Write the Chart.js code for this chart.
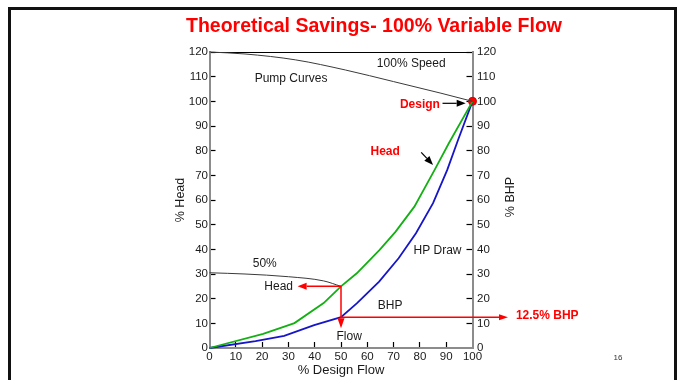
<!DOCTYPE html>
<html>
<head>
<meta charset="utf-8">
<script src="https://cdn.jsdelivr.net/npm/chart.js@4.4.1/dist/chart.umd.min.js"></script>
<style>
  html, body { margin: 0; padding: 0; background: #fff; }
  #wrap { position: relative; width: 683px; height: 380px; overflow: hidden; }
  #frame { position: absolute; left: 8px; top: 7px; width: 669px; height: 400px; box-sizing: border-box; border: 3px solid #111; }
  canvas { position: absolute; left: 0; top: 0; }
</style>
</head>
<body>
<div id="wrap">
  <div id="frame"></div>
  <canvas id="c" width="683" height="380"></canvas>
</div>
<script>
// Pump curves (% head vs % design flow)
const speed100Flow = [0, 13.5, 32.8, 51.7, 70, 88, 100];
const speed100Head = [120, 119.2, 116.8, 112.7, 108, 103.3, 100];
const speed50Flow  = [0, 13.5, 30, 43.4, 50];
const speed50Head  = [30.5, 30, 28.9, 27.2, 25];

// System head curve
const systemFlow = [0, 20.4, 32.3, 43.4, 50, 56, 64.6, 70.7, 77.9, 85.6, 91, 100];
const systemHead = [0, 5.7, 10.1, 18.2, 25, 30.3, 39.7, 47.1, 57.3, 72.2, 83, 100];

// Brake horsepower draw
const bhpFlow = [0, 17.5, 28.4, 39.8, 50, 56, 64.5, 71.9, 78.5, 85, 90.4, 94.5, 100];
const bhpPct  = [0, 2.8, 4.9, 9.3, 12.5, 18.1, 26.9, 36.4, 46.5, 58.7, 72.2, 84.3, 100];

// Operating points
const designFlow = 100, designHead = 100;
const reducedFlow = 50, reducedHead = 25, reducedBhp = 12.5;
const flowArrowEnd = 8;      // % head where the flow arrow stops
const headArrowEnd = 33.5;   // % flow where the head arrow stops
const bhpArrowEnd = 113.5;   // % flow where the BHP arrow stops

const FONT = "'Liberation Sans', Arial, Helvetica, sans-serif";
const RED = '#ff0000';
const INK = '#1a1a1a';

const pts = (xs, ys) => xs.map((x, i) => ({ x, y: ys[i] }));
const hideEnds = (lo, hi) => c => (c.tick && (c.tick.value === lo || c.tick.value === hi)) ? 'rgba(0,0,0,0)' : '#000';

// Text notes placed in data coordinates (flow %, head %)
const notes = [
  { text: 'Pump Curves', x: 31, y: 109.1 },
  { text: '100% Speed', x: 76.7, y: 115.3 },
  { text: 'Design', x: 80, y: 98.7, color: RED, bold: true },
  { text: 'Head', x: 66.8, y: 79.6, color: RED, bold: true },
  { text: 'HP Draw', x: 86.7, y: 39.3 },
  { text: 'BHP', x: 68.7, y: 17.2 },
  { text: '50%', x: 21, y: 34 },
  { text: 'Head', x: 26.3, y: 24.9 },
  { text: 'Flow', x: 53.1, y: 4.6 },
  { text: '12.5% BHP', x: 116.5, y: 13.3, color: RED, bold: true, align: 'left' }
];

function arrow(ctx, x1, y1, x2, y2, len, half) {
  const a = Math.atan2(y2 - y1, x2 - x1);
  const bx = x2 - len * Math.cos(a), by = y2 - len * Math.sin(a);
  ctx.beginPath();
  ctx.moveTo(x1, y1);
  ctx.lineTo(bx, by);
  ctx.stroke();
  ctx.beginPath();
  ctx.moveTo(x2, y2);
  ctx.lineTo(bx + half * Math.sin(a), by - half * Math.cos(a));
  ctx.lineTo(bx - half * Math.sin(a), by + half * Math.cos(a));
  ctx.closePath();
  ctx.fill();
}

const overlay = {
  id: 'overlay',
  afterDatasetsDraw(chart) {
    const { ctx, scales: { x, y } } = chart;
    const px = v => x.getPixelForValue(v), py = v => y.getPixelForValue(v);
    ctx.save();
    ctx.lineWidth = 1.5;
    ctx.strokeStyle = RED;
    ctx.fillStyle = RED;
    // reduced-flow operating point markers
    arrow(ctx, px(reducedFlow), py(reducedHead), px(reducedFlow), py(flowArrowEnd), 10, 3.5);
    arrow(ctx, px(reducedFlow), py(reducedHead), px(headArrowEnd), py(reducedHead), 9, 3.5);
    arrow(ctx, px(reducedFlow), py(reducedBhp), px(bhpArrowEnd), py(reducedBhp), 9, 3);
    // pointer arrows for the red notes
    ctx.strokeStyle = '#000';
    ctx.fillStyle = '#000';
    ctx.lineWidth = 1.2;
    arrow(ctx, px(88.6), py(99.2), px(97.4), py(99.2), 9, 3.5);
    arrow(ctx, px(80.5), py(79.3), px(85), py(74.2), 9, 3.5);
    ctx.restore();
  },
  afterDraw(chart) {
    const { ctx, scales: { x, y } } = chart;
    ctx.save();
    ctx.textBaseline = 'middle';
    notes.forEach(n => {
      ctx.font = (n.bold ? 'bold ' : '') + '12px ' + FONT;
      ctx.fillStyle = n.color || INK;
      ctx.textAlign = n.align || 'center';
      ctx.fillText(n.text, x.getPixelForValue(n.x), y.getPixelForValue(n.y));
    });
    // heading
    ctx.font = 'bold 19.5px ' + FONT;
    ctx.fillStyle = RED;
    ctx.textAlign = 'center';
    ctx.fillText('Theoretical Savings- 100% Variable Flow', 374, 27);
    // right axis title, reading upward
    ctx.save();
    ctx.translate(511, 197);
    ctx.rotate(-Math.PI / 2);
    ctx.font = '12.5px ' + FONT;
    ctx.fillStyle = INK;
    ctx.fillText('% BHP', 0, 0);
    ctx.restore();
    // page number
    ctx.font = '8px ' + FONT;
    ctx.fillStyle = '#333';
    ctx.fillText('16', 618, 358);
    ctx.restore();
  }
};

const tickFont = { family: FONT, size: 11.5 };

new Chart(document.getElementById('c'), {
  type: 'line',
  data: {
    datasets: [
      { label: '100% Speed', data: pts(speed100Flow, speed100Head), borderColor: '#3a3a3a', borderWidth: 1,
        pointRadius: 0, cubicInterpolationMode: 'monotone', clip: false },
      { label: '50% Speed', data: pts(speed50Flow, speed50Head), borderColor: '#3a3a3a', borderWidth: 1,
        pointRadius: 0, cubicInterpolationMode: 'monotone', clip: false },
      { label: 'Head', data: pts(systemFlow, systemHead), borderColor: '#13b013', borderWidth: 1.8,
        pointRadius: 0, tension: 0, clip: false },
      { label: 'BHP', data: pts(bhpFlow, bhpPct), borderColor: '#1616c8', borderWidth: 1.8,
        pointRadius: 0, tension: 0, clip: false },
      { label: 'Design', data: [{ x: designFlow, y: designHead }], showLine: false, pointRadius: 4,
        pointBackgroundColor: RED, pointBorderColor: '#d00000', pointBorderWidth: 1, clip: false }
    ]
  },
  options: {
    responsive: false,
    animation: false,
    devicePixelRatio: 1,
    layout: { padding: { left: 170, right: 170.5, top: 52, bottom: 0 } },
    plugins: { legend: { display: false }, tooltip: { enabled: false }, title: { display: false } },
    scales: {
      x: {
        type: 'linear', position: 'bottom', min: 0, max: 100,
        ticks: { stepSize: 10, autoSkip: false, maxRotation: 0, padding: 7.5, color: INK, font: tickFont },
        grid: { drawOnChartArea: false, tickLength: -6, tickWidth: 1.2, tickColor: hideEnds(0, 100) },
        border: { color: '#8c8c8c', width: 2 },
        title: { display: true, text: '% Design Flow', color: INK, font: { family: FONT, size: 13 }, padding: { top: 0, bottom: 1.5 } },
        afterFit(s) { s.height = 32; }
      },
      y: {
        type: 'linear', position: 'left', min: 0, max: 120,
        ticks: { stepSize: 10, padding: 7.5, color: INK, font: tickFont },
        grid: {
          drawOnChartArea: true, tickLength: -6, tickWidth: 1.2, lineWidth: 1,
          color: c => (c.tick && c.tick.value === 120) ? '#000' : 'rgba(0,0,0,0)',
          tickColor: hideEnds(0, -1)
        },
        border: { color: '#8c8c8c', width: 2 },
        title: { display: true, text: '% Head', color: INK, font: { family: FONT, size: 12.5 }, padding: { top: 3, bottom: 0 } },
        afterFit(s) { s.width = 39.5; }
      },
      y2: {
        type: 'linear', position: 'right', min: 0, max: 120,
        ticks: { stepSize: 10, padding: 10.5, color: INK, font: tickFont },
        grid: { drawOnChartArea: false, tickLength: -6, tickWidth: 1.2, tickColor: hideEnds(0, -1) },
        border: { color: '#8c8c8c', width: 2 },
        afterFit(s) { s.width = 40; }
      }
    }
  },
  plugins: [overlay]
});
</script>
</body>
</html>
